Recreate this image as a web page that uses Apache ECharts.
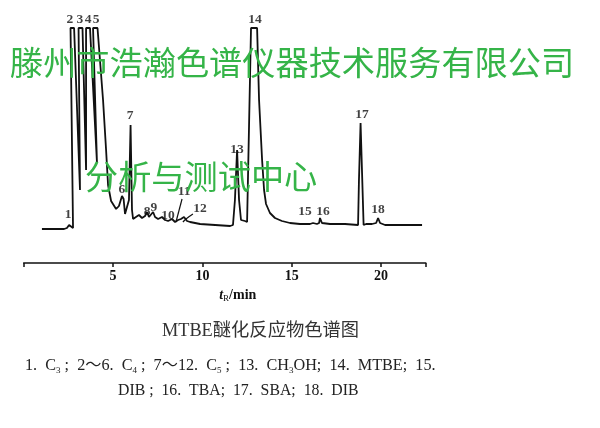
<!DOCTYPE html>
<html>
<head>
<meta charset="utf-8">
<script src="https://cdn.jsdelivr.net/npm/echarts@6/dist/echarts.min.js"></script>
<style>html,body{margin:0;padding:0;background:#fff}#c{width:600px;height:428px}</style>
</head>
<body>
<div id="c"></div>
<script>
// Chromatogram trace: retention time (min) and detector signal (relative, 100 = full scale)
var traceTime = [1.02,2.26,2.42,2.54,2.65,2.76,2.62,2.82,3.15,3.07,3.29,3.49,3.49,3.71,4.10,3.88,4.13,4.44,4.61,4.72,4.89,5.17,5.33,5.50,5.59,5.67,5.78,5.89,5.98,6.06,6.12,6.28,6.45,6.62,6.79,6.90,7.01,7.12,7.24,7.35,7.52,7.74,7.91,8.08,8.30,8.47,8.64,8.80,8.97,9.14,9.31,9.87,10.71,11.55,11.71,11.82,11.94,12.05,12.16,12.27,12.38,12.50,12.61,12.72,13.06,13.17,13.34,13.45,13.56,13.78,14.06,14.45,14.90,15.46,16.02,16.19,16.30,16.41,16.53,16.58,16.69,17.14,17.98,18.71,18.76,18.85,19.02,19.16,19.49,19.72,19.83,19.94,20.22,21.06,22.29];
var traceSignal = [-0.5,-0.5,0,1.5,0.5,0,100,100,19,100,100,29,100,100,32.5,100,100,64,39,21.5,13.5,9.5,11,16,14.5,7,6,14,51.5,9,4.5,5.5,6.5,5,6,8,5.5,5.5,8,5.5,4.5,5.5,4,3.5,4.5,3,4,4.5,5.5,3.5,3,2,1.5,1,1.5,14,39,14,4,3,3.5,3,3,100,100,64,34,19,12,7.5,5,3.5,2.5,2,2,2.5,3.5,2,2.5,5,2.5,2,2,1.5,24,52.5,1.5,2,2,2.5,5,2.5,1.5,1.5,1.5];

// Peak numbers and where they are written
var peakNames  = ['1','2','3','4','5','6','7','8','9','10','11','12','13','14','15','16','17','18'];
var peakLabelT = [2.48,2.59,3.15,3.60,4.05,5.50,5.95,6.90,7.29,8.08,8.97,9.87,11.94,12.94,15.74,16.75,18.93,19.83];
var peakLabelS = [6.5,104,104,104,104,19,56,8,10,6,18,9.5,39,104,8,8,56.5,9];

// Leader lines of peaks 11 and 12 (time, signal)
var leader11 = [[8.86,14.5],[8.52,3]];
var leader12 = [[9.47,7],[9.08,4.5],[8.91,3]];

var xTicks = [0,5,10,15,20];

var trace = traceTime.map(function(t,i){return [t, traceSignal[i]];});
var labels = peakNames.map(function(n,i){return {value:[peakLabelT[i], peakLabelS[i]], name:n};});

var serif = "'Liberation Serif','Noto Sans CJK SC',serif";
var chart = echarts.init(document.getElementById('c'), null, {renderer:'canvas'});
chart.setOption({
  animation:false,
  backgroundColor:'#fff',
  grid:{left:23.7, right:174.2, top:28, bottom:165},
  xAxis:{
    type:'value', min:0, max:22.5, interval:5,
    axisLine:{onZero:false, lineStyle:{color:'#111', width:1.5}},
    axisTick:{length:4, lineStyle:{color:'#111', width:1.5}},
    splitLine:{show:false},
    axisLabel:{margin:6, fontFamily:serif, fontWeight:'bold', fontSize:14, color:'#111',
      formatter:function(v){return xTicks.indexOf(v)>0 ? String(v) : '';}},
    name:'{t|t}{r|R}{m|/min}',
    nameLocation:'middle', nameGap:22,
    nameTextStyle:{padding:[0,0,0,26], rich:{
      t:{fontFamily:serif, fontStyle:'italic', fontWeight:'bold', fontSize:14, color:'#111', lineHeight:16},
      r:{fontFamily:serif, fontSize:9, color:'#111', lineHeight:10, verticalAlign:'bottom'},
      m:{fontFamily:serif, fontWeight:'bold', fontSize:14, color:'#111', lineHeight:16}
    }}
  },
  yAxis:{type:'value', min:-17.5, max:100, show:false},
  title:[
    {text:'滕州市浩瀚色谱仪器技术服务有限公司', left:10, top:46, padding:0,
     textStyle:{fontFamily:"'Noto Sans CJK SC',sans-serif", fontSize:33.2, fontWeight:'normal', color:'#35b448'}},
    {text:'分析与测试中心', left:85, top:160, padding:0,
     textStyle:{fontFamily:"'Noto Sans CJK SC',sans-serif", fontSize:33.2, fontWeight:'normal', color:'#35b448'}},
    {text:'MTBE醚化反应物色谱图', left:162, top:322, padding:0,
     textStyle:{fontFamily:serif, fontSize:18.3, fontWeight:'normal', color:'#333'}},
    {text:'{n|1.  C}{s|3}{n| ;  2～6.  C}{s|4}{n| ;  7～12.  C}{s|5}{n| ;  13.  CH}{s|3}{n|OH;  14.  MTBE;  15.}',
     left:25, top:357, padding:0,
     textStyle:{fontWeight:'normal', rich:{
       n:{fontFamily:serif, fontSize:16.2, fontWeight:'normal', color:'#222', lineHeight:18},
       s:{fontFamily:serif, fontSize:9, fontWeight:'normal', color:'#222', lineHeight:10, verticalAlign:'bottom'}}}},
    {text:'DIB ;  16.  TBA;  17.  SBA;  18.  DIB', left:118, top:383, padding:0,
     textStyle:{fontFamily:serif, fontSize:15.8, fontWeight:'normal', color:'#222'}}
  ],
  series:[
    {type:'line', data:trace, showSymbol:false, clip:false, silent:true,
     lineStyle:{color:'#111', width:1.8}},
    {type:'line', data:leader11, showSymbol:false, clip:false, silent:true, lineStyle:{color:'#111', width:1.2}},
    {type:'line', data:leader12, showSymbol:false, clip:false, silent:true, smooth:true, lineStyle:{color:'#111', width:1.2}},
    {type:'scatter', data:labels, symbolSize:1, clip:false, silent:true,
     itemStyle:{color:'rgba(0,0,0,0)'},
     label:{show:true, position:'inside', formatter:'{b}', fontFamily:serif, fontWeight:'bold', fontSize:13.5, color:'#111'}}
  ]
});
</script>
</body>
</html>
